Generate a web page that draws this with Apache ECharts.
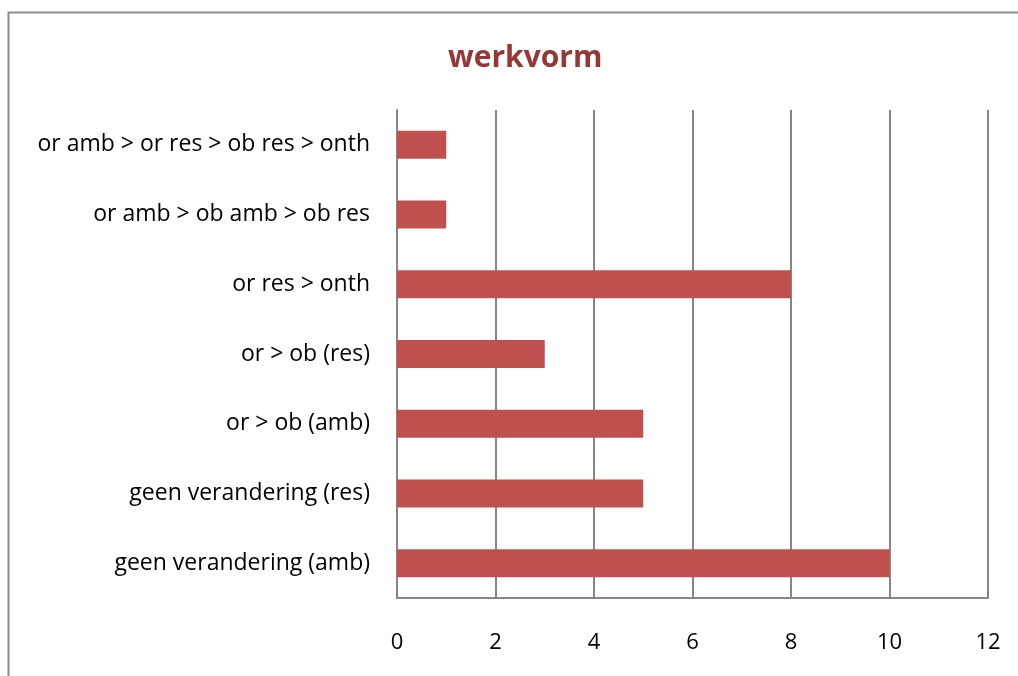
<!DOCTYPE html>
<html>
<head>
<meta charset="utf-8">
<script src="https://cdn.jsdelivr.net/npm/echarts@6/dist/echarts.min.js"></script>
</head>
<body style="margin:0">
<div id="container" style="width:1018px;height:676px"></div>
<script>
var categories = ['geen verandering (amb)', 'geen verandering (res)', 'or > ob (amb)', 'or > ob (res)',
                  'or res > onth', 'or amb > ob amb > ob res', 'or amb > or res > ob res > onth'];
var values = [10, 5, 5, 3, 8, 1, 1];
var xTicks = [0, 2, 4, 6, 8, 10, 12];

var chart = echarts.init(document.getElementById('container'));
var font = '"Open Sans", sans-serif';
var option = {
    backgroundColor: '#fff',
    animation: false,
    title: {
        text: 'werkvorm',
        left: 443,
        top: 38,
        textStyle: { color: '#953735', fontSize: 30, fontWeight: 'bold', fontFamily: font }
    },
    graphic: [{
        type: 'rect',
        shape: { x: 8.5, y: 12.5, width: 1100, height: 800 },
        style: { fill: 'none', stroke: '#8c8c8c', lineWidth: 2 }
    }],
    grid: { left: 397, right: 30, top: 110, bottom: 78 },
    xAxis: {
        type: 'value',
        min: xTicks[0], max: xTicks[xTicks.length - 1], interval: 2,
        axisLine: { show: true, lineStyle: { color: '#868686', width: 2 } },
        axisTick: { show: false },
        splitLine: { lineStyle: { color: '#868686', width: 2 } },
        axisLabel: { color: '#000', fontSize: 22, fontFamily: font, margin: 34 }
    },
    yAxis: {
        type: 'category',
        data: categories,
        axisLine: { show: true, lineStyle: { color: '#868686', width: 2 } },
        axisTick: { show: false },
        axisLabel: { color: '#000', fontSize: 23, fontFamily: font, margin: 27, padding: [6, 0, 0, 0] }
    },
    series: [{
        type: 'bar',
        data: values,
        barWidth: 28,
        itemStyle: { color: '#C0504D' }
    }]
};
chart.setOption(option);
</script>
</body>
</html>
